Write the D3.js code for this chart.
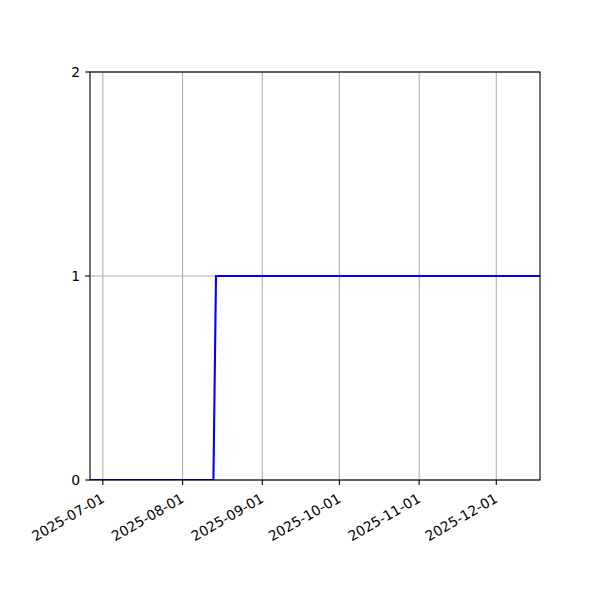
<!DOCTYPE html>
<html><head><meta charset="utf-8">
<script src="https://cdn.jsdelivr.net/npm/d3@7"></script>
<style>body{margin:0;background:#fff}svg{display:block}text{font-family:"DejaVu Sans",sans-serif}</style>
</head><body>
<script>
const dates = ["2025-06-26","2025-08-13","2025-08-14","2025-12-18"];
const values = [0,0,1,1];
const xTicks = ["2025-07-01","2025-08-01","2025-09-01","2025-10-01","2025-11-01","2025-12-01"];
const yTicks = [0,1,2];

const W=600,H=600, m={l:90,r:60,t:72,b:120};
const parse=d3.utcParse("%Y-%m-%d");
const data=dates.map((d,i)=>({d:parse(d),v:values[i]}));
const svg=d3.select("body").append("svg").attr("width",W).attr("height",H);
const x=d3.scaleUtc().domain([parse(dates[0]),parse(dates[dates.length-1])]).range([m.l,W-m.r]);
const y=d3.scaleLinear().domain([0,2]).range([H-m.b,m.t]);

svg.append("defs").append("clipPath").attr("id","c").append("rect")
  .attr("x",m.l).attr("y",m.t).attr("width",W-m.l-m.r).attr("height",H-m.t-m.b);

// grid
svg.append("g").selectAll("line").data(xTicks).join("line")
  .attr("x1",d=>x(parse(d))).attr("x2",d=>x(parse(d))).attr("y1",m.t).attr("y2",H-m.b)
  .attr("stroke","#b0b0b0").attr("stroke-width",1.1);
svg.append("g").selectAll("line").data(yTicks).join("line")
  .attr("x1",m.l).attr("x2",W-m.r).attr("y1",d=>y(d)).attr("y2",d=>y(d))
  .attr("stroke","#b0b0b0").attr("stroke-width",1.1);

// line
svg.append("path").datum(data).attr("clip-path","url(#c)")
  .attr("d",d3.line().x(d=>x(d.d)).y(d=>y(d.v)))
  .attr("fill","none").attr("stroke","#0000ff").attr("stroke-width",2.1);

// spines
svg.append("rect").attr("x",m.l).attr("y",m.t).attr("width",W-m.l-m.r).attr("height",H-m.t-m.b)
  .attr("fill","none").attr("stroke","#000").attr("stroke-width",1.1);

// x ticks
const xg=svg.append("g").selectAll("g").data(xTicks).join("g")
  .attr("transform",d=>`translate(${x(parse(d))},${H-m.b})`);
xg.append("line").attr("y2",4.9).attr("stroke","#000").attr("stroke-width",1.1);
xg.append("text").attr("transform","translate(0,17) rotate(-30)")
  .attr("text-anchor","end").attr("font-size","13.9px").attr("dy","0.35em").text(d=>d);

// y ticks
const yg=svg.append("g").selectAll("g").data(yTicks).join("g")
  .attr("transform",d=>`translate(${m.l},${y(d)})`);
yg.append("line").attr("x2",-4.9).attr("stroke","#000").attr("stroke-width",1.1);
yg.append("text").attr("x",-9.8).attr("dy","0.35em").attr("text-anchor","end")
  .attr("font-size","13.9px").text(d=>d);
</script>
</body></html>
